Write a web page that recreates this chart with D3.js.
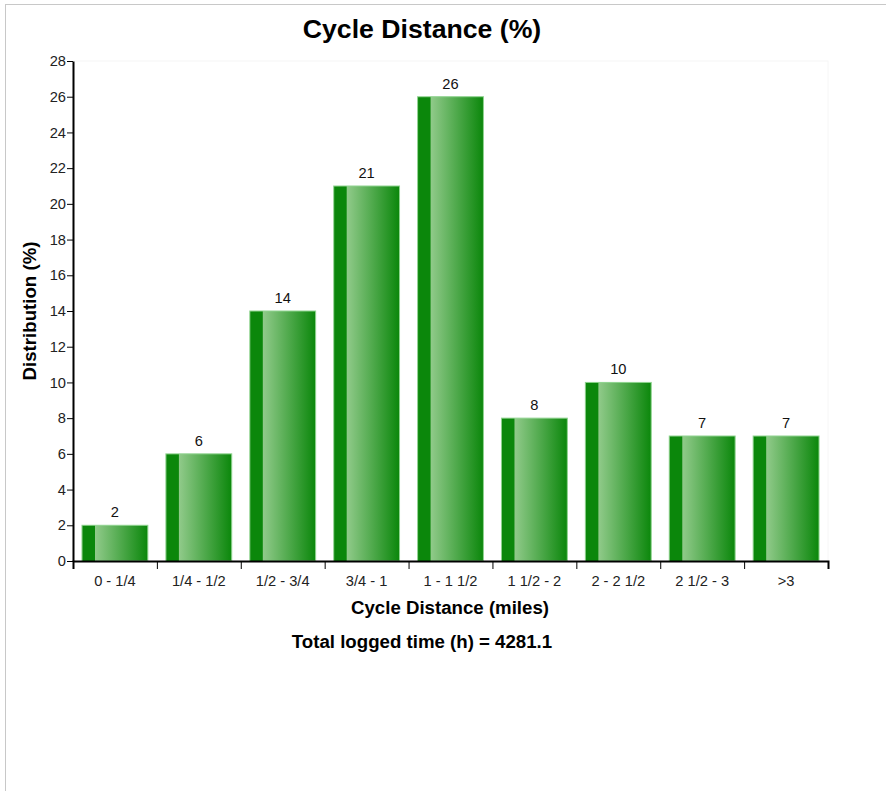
<!DOCTYPE html>
<html><head><meta charset="utf-8">
<script src="https://cdn.jsdelivr.net/npm/d3@7"></script>
<style>
html,body{margin:0;padding:0;background:#fff;overflow:hidden;}
#frame{position:absolute;left:5px;top:4px;width:900px;height:800px;border-left:1px solid #c8c8c8;border-top:1px solid #c8c8c8;}
svg{position:absolute;left:0;top:0;}
text{font-family:"Liberation Sans",Arial,sans-serif;}
</style></head>
<body><div id="frame"></div><svg id="chart" width="886" height="791"></svg>
<script>
const categories = ["0 - 1/4","1/4 - 1/2","1/2 - 3/4","3/4 - 1","1 - 1 1/2","1 1/2 - 2","2 - 2 1/2","2 1/2 - 3",">3"];
const values = [2,6,14,21,26,8,10,7,7];
const yTicks = [0,2,4,6,8,10,12,14,16,18,20,22,24,26,28];
const titleText = "Cycle Distance (%)";
const xLabel = "Cycle Distance (miles)";
const yLabel = "Distribution (%)";
const footer = "Total logged time (h) = 4281.1";

(function(){
const svg = d3.select("#chart");
const pL = 73, pR = 828, pT = 61, pB = 561;
const tickFont = 14.67, labelFont = 18.67, titleFont = 26.67;

const x = d3.scaleBand().domain(categories).range([pL, pR]).paddingInner(0.215).paddingOuter(0.107);
const xEdge = d3.scaleLinear().domain([0, categories.length]).range([pL, pR]);
const y = d3.scaleLinear().domain([0, 28]).range([pB, pT]);

const defs = svg.append("defs");
const g = defs.append("linearGradient").attr("id","barGrad").attr("x1","0").attr("x2","1").attr("y1","0").attr("y2","0");
g.append("stop").attr("offset","0%").attr("stop-color","#b2dbaa");
g.append("stop").attr("offset","100%").attr("stop-color","#0b870b");

svg.append("rect").attr("x",pL).attr("y",pT).attr("width",pR-pL).attr("height",pB-pT)
  .attr("fill","none").attr("stroke","#f6f6f6");

const bars = svg.append("g");
bars.selectAll("rect.main").data(values).join("rect").attr("class","main")
  .attr("x",(d,i)=>x(categories[i])).attr("y",d=>y(d))
  .attr("width",x.bandwidth()).attr("height",d=>pB-y(d))
  .attr("fill","url(#barGrad)").attr("stroke","#8fd38f").attr("stroke-width",1);
bars.selectAll("rect.stripe").data(values).join("rect").attr("class","stripe")
  .attr("x",(d,i)=>x(categories[i])+0.5).attr("y",d=>y(d)+0.5)
  .attr("width",x.bandwidth()*0.19).attr("height",d=>pB-y(d)-0.5)
  .attr("fill","#0b870b");

svg.append("g").selectAll("text").data(values).join("text")
  .attr("x",(d,i)=>x(categories[i])+x.bandwidth()/2).attr("y",d=>y(d)-8)
  .attr("text-anchor","middle").attr("font-size",tickFont).attr("fill","#111").text(d=>d);

const yAxis = svg.append("g").attr("transform",`translate(${pL},0)`)
  .call(d3.axisLeft(y).tickValues(yTicks).tickSize(6).tickSizeOuter(0));
yAxis.attr("font-size",tickFont).attr("font-family","Liberation Sans, Arial, sans-serif");
yAxis.select(".domain").attr("stroke","#000").attr("stroke-width",2);
yAxis.selectAll(".tick line").attr("stroke","#000");
yAxis.selectAll(".tick text").attr("fill","#222").attr("x",-7);

const xAxis = svg.append("g").attr("transform",`translate(0,${pB})`)
  .call(d3.axisBottom(xEdge).tickValues(d3.range(categories.length+1)).tickSize(8).tickFormat(""));
xAxis.select(".domain").attr("stroke","#000").attr("stroke-width",2);
xAxis.selectAll(".tick line").attr("stroke","#000");
svg.append("g").selectAll("text").data(categories).join("text")
  .attr("x",d=>x(d)+x.bandwidth()/2).attr("y",pB+25)
  .attr("text-anchor","middle").attr("font-size",tickFont).attr("fill","#222").text(d=>d);

svg.append("text").attr("x",422).attr("y",38).attr("text-anchor","middle")
  .attr("font-size",titleFont).attr("font-weight","bold").attr("fill","#000").text(titleText);
svg.append("text").attr("x",450).attr("y",614).attr("text-anchor","middle")
  .attr("font-size",labelFont).attr("font-weight","bold").attr("fill","#000").text(xLabel);
svg.append("text").attr("x",422).attr("y",648).attr("text-anchor","middle")
  .attr("font-size",labelFont).attr("font-weight","bold").attr("fill","#000").text(footer);
svg.append("text").attr("transform","translate(36,311) rotate(-90)").attr("text-anchor","middle")
  .attr("font-size",labelFont).attr("font-weight","bold").attr("fill","#000").text(yLabel);
})();
</script></body></html>
